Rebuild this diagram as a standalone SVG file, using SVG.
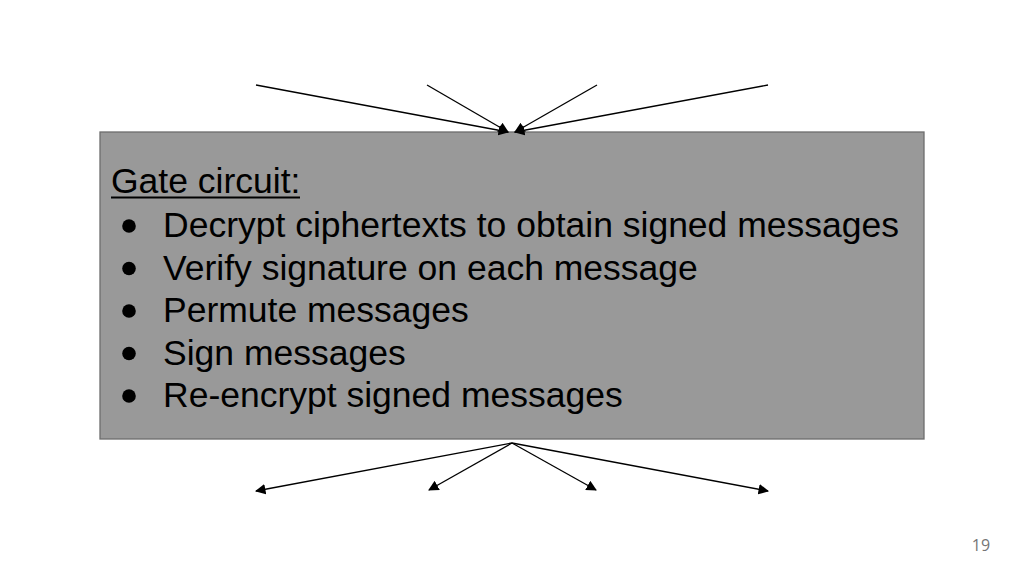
<svg xmlns="http://www.w3.org/2000/svg" width="1024" height="576" viewBox="0 0 1024 576">
<style>
.t{font-family:"Liberation Sans",Arial,sans-serif;font-size:35.5px;fill:#000}
.c{stroke:#000;stroke-width:1.3;fill:none;marker-end:url(#ah)}
</style>
<defs>
<marker id="ah" viewBox="0 0 10 10" refX="9" refY="5" markerWidth="10.5" markerHeight="10.5" markerUnits="userSpaceOnUse" orient="auto">
<path d="M0,0 L10,5 L0,10 z" fill="#000"/>
</marker>
</defs>
<rect width="1024" height="576" fill="#fff"/>
<g id="gate">
<rect x="100" y="132" width="824" height="307" fill="#999999" stroke="#6d6d6d" stroke-width="1.3"/>
<text class="t" x="111" y="193">Gate circuit:</text>
<rect x="111" y="196.5" width="189" height="2" fill="#000"/>
<g class="t">
<circle cx="129" cy="226" r="6.8" fill="#000"/>
<text x="163" y="237">Decrypt ciphertexts to obtain signed messages</text>
<circle cx="129" cy="268.5" r="6.8" fill="#000"/>
<text x="163" y="280">Verify signature on each message</text>
<circle cx="129" cy="311" r="6.8" fill="#000"/>
<text x="163" y="322">Permute messages</text>
<circle cx="129" cy="353.5" r="6.8" fill="#000"/>
<text x="163" y="365">Sign messages</text>
<circle cx="129" cy="396" r="6.8" fill="#000"/>
<text x="163" y="407">Re-encrypt signed messages</text>
</g>
</g>
<g id="connectors">
<line class="c" x1="256" y1="85" x2="508" y2="132"/>
<line class="c" x1="427" y1="85" x2="508" y2="132"/>
<line class="c" x1="597" y1="85" x2="515" y2="132"/>
<line class="c" x1="768" y1="85" x2="515" y2="132"/>
<line class="c" x1="512" y1="443" x2="256" y2="491"/>
<line class="c" x1="512" y1="443" x2="429" y2="490"/>
<line class="c" x1="512" y1="443" x2="596" y2="490"/>
<line class="c" x1="512" y1="443" x2="768" y2="491"/>
</g>
<text id="page" x="981" y="551" text-anchor="middle" font-family="'Open Sans','Liberation Sans',sans-serif" font-size="16" fill="#757575">19</text>
</svg>
